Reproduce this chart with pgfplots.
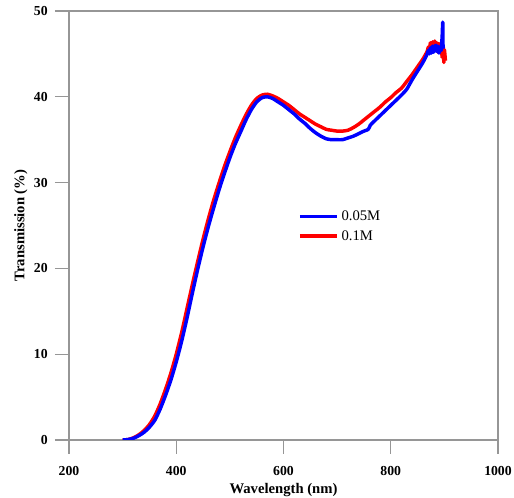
\documentclass[border=0pt]{standalone}
\usepackage{pgfplots}
\pgfplotsset{compat=1.18}
\usepackage{fontspec}
\setmainfont{Liberation Serif}
\definecolor{axgray}{RGB}{150,150,150}
\begin{document}
\begin{tikzpicture}
\useasboundingbox (-51.75pt,-43.5pt) rectangle (333.75pt,330pt);
\begin{axis}[
  at={(0pt,0pt)}, anchor=south west,
  scale only axis,
  width=321.75pt, height=321.75pt,
  xmin=200, xmax=1000, ymin=0, ymax=50,
  xtick={200,400,600,800,1000},
  ytick={0,10,20,30,40,50},
  xtick pos=left, ytick pos=left,
  tick align=outside,
  major tick length=10.5pt,
  axis line style={axgray, line width=1pt},
  tick style={axgray, line width=1pt},
  /pgf/number format/assume math mode=true,
  /pgf/number format/1000 sep={},
  ticklabel style={font=\fontsize{10.3}{12}\selectfont\bfseries},
  xticklabel style={yshift=-6pt},
  yticklabel style={xshift=-2pt},
  xlabel={\textbf{Wavelength (nm)}},
  ylabel={\textbf{Transmission (\%)}},
  label style={font=\fontsize{11}{13}\selectfont},
  xlabel style={yshift=1.5pt},
  ylabel style={yshift=-2pt},
  legend style={at={(rel axis cs:0.524,0.548)}, anchor=north west, draw=none, fill=none,
    font=\fontsize{11}{13}\selectfont, row sep=2pt},
  legend cell align=left,
  legend image code/.code={\draw[#1] (0pt,0pt) -- (28pt,0pt);},
]
\addlegendimage{blue, line width=2.6pt}
\addlegendentry{0.05M}
\addlegendimage{red, line width=2.6pt}
\addlegendentry{0.1M}

\addplot[red, line width=2.6pt, line join=round, smooth, tension=0.4, forget plot] coordinates {
(300,0) (310,0.05) (320,0.25) (330,0.6) (340,1.1) (350,1.8) (360,2.8) (370,4.2) (380,5.9) (390,7.8)
(400,10.0) (410,12.5) (420,15.3) (430,18.1) (440,20.8) (450,23.4) (460,25.8) (470,28.0) (480,30.0) (490,31.9)
(500,33.6) (510,35.2) (520,36.6) (530,37.9) (540,39.0) (550,39.8) (560,40.2) (570,40.3) (580,40.1) (590,39.8)
(600,39.4) (610,39.0) (620,38.5) (630,38.0) (640,37.6) (650,37.2) (660,36.8) (670,36.5) (680,36.2) (690,36.1)
(700,36.0) (710,36.0) (720,36.1) (730,36.4) (740,36.8) (750,37.3) (760,37.8) (770,38.3) (780,38.8) (790,39.4)
(800,39.9) (810,40.5) (820,41.0) (830,41.8) (840,42.6) (850,43.5) (860,44.4) (868,45.3)
(870,45.8) (872,45.4) (874,46.3) (876,45.5) (878,46.4) (880,45.6) (882,46.5) (884,45.4) (886,46.3) (888,45.2)
(890,46.2) (892,45.3) (894,46.0) (896,44.6) (898,45.8) (899,44.0) (900,45.5) (902,44.2)
};
\addplot[blue, line width=2.6pt, line join=round, smooth, tension=0.4, forget plot] coordinates {
(300,0) (310,0.05) (320,0.2) (330,0.5) (340,0.9) (350,1.5) (360,2.3) (370,3.6) (380,5.2) (390,7.0)
(400,9.1) (410,11.5) (420,14.2) (430,17.1) (440,19.9) (450,22.5) (460,24.9) (470,27.1) (480,29.2) (490,31.1)
(500,32.9) (510,34.5) (520,35.9) (530,37.3) (540,38.5) (550,39.4) (560,39.9) (570,40.0) (580,39.8) (590,39.4)
(600,39.0) (610,38.5) (620,38.0) (630,37.4) (640,36.9) (650,36.3) (660,35.8) (670,35.4) (680,35.1) (690,35.0)
(700,35.0) (710,35.0) (720,35.2) (730,35.4) (740,35.7) (750,36.0) (758,36.2) (762,36.7) (770,37.2) (780,37.8)
(790,38.4) (800,39.0) (810,39.6) (820,40.2) (830,40.9) (840,42.0) (850,43.0) (860,44.0) (868,45.0)
(870,45.4) (872,45.0) (874,45.7) (876,45.1) (878,45.9) (880,45.2) (882,45.8) (884,46.0) (886,45.3) (888,45.9)
(890,45.1) (892,45.8) (894,45.4) (895,46.2) (896,47.2) (897,48.7) (897.5,46.0) (898,45.6)
};
\end{axis}
\end{tikzpicture}
\end{document}
